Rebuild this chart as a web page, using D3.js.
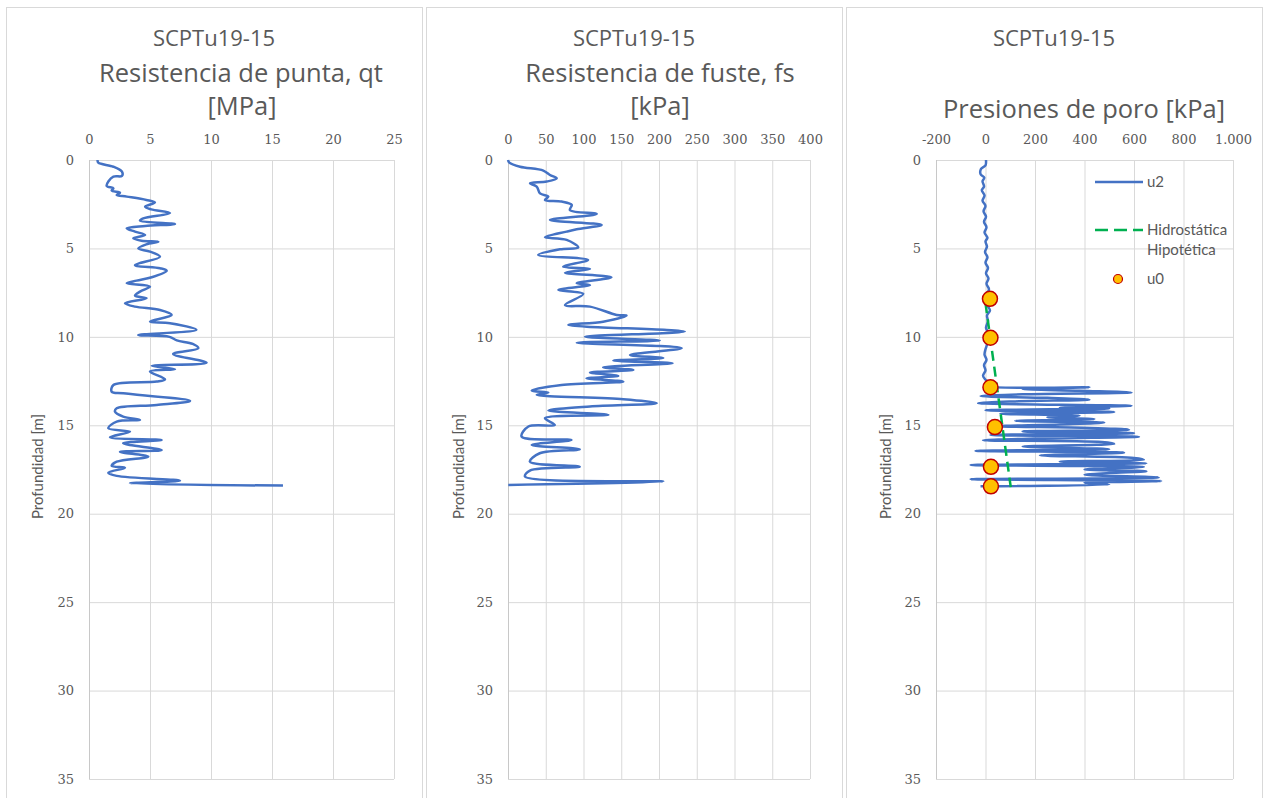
<!DOCTYPE html>
<html>
<head>
<meta charset="utf-8">
<script src="https://cdn.jsdelivr.net/npm/d3@7"></script>
<style>
  html, body { margin: 0; padding: 0; background: #ffffff; }
  svg { display: block; }
  .title { font-family: "Open Sans", Lato, sans-serif; fill: #595959; }
  .label { font-family: Lato, "Open Sans", sans-serif; fill: #595959; }
  .tick text { font-family: "DejaVu Serif", serif; fill: #595959; }
</style>
</head>
<body>
<svg id="chart" width="1266" height="798"></svg>
<script>
// ---- Data: SCPTu19-15 sounding ----
const depthTicks = [0, 5, 10, 15, 20, 25, 30, 35];
const qtTicks = [0, 5, 10, 15, 20, 25];
const fsTicks = [0, 50, 100, 150, 200, 250, 300, 350, 400];
const uTicks = [-200, 0, 200, 400, 600, 800, 1000];

// Cone tip resistance qt [MPa] vs depth [m]
const qtDepth = [0, 0.15, 0.38, 0.66, 0.9, 0.94, 1.2, 1.47, 1.6, 1.73, 1.85, 1.98, 2.07, 2.26, 2.4, 2.64, 2.79, 3.0, 3.3, 3.43, 3.62, 3.73, 3.86, 4.05, 4.24, 4.43, 4.56, 4.62, 4.77, 5.0, 5.18, 5.47, 5.94, 6.12, 6.26, 6.63, 6.82, 6.97, 7.16, 7.44, 7.67, 7.82, 8.1, 8.29, 8.48, 8.76, 9.14, 9.23, 9.6, 9.9, 10.0, 10.2, 10.4, 10.64, 10.97, 11.46, 11.64, 11.83, 11.96, 12.4, 12.53, 12.72, 13.1, 13.19, 13.62, 13.85, 14.04, 14.23, 14.51, 14.7, 14.79, 15.17, 15.36, 15.68, 15.83, 16.02, 16.4, 16.5, 16.77, 17.06, 17.3, 17.4, 17.68, 17.86, 18.13, 18.28, 18.41];
const qtValue = [0.7, 0.76, 2.0, 2.7, 2.7, 2.0, 1.6, 1.45, 2.0, 1.86, 2.54, 2.27, 3.1, 4.7, 5.4, 4.6, 5.1, 6.64, 4.45, 4.18, 7.05, 4.6, 3.09, 3.77, 4.6, 3.63, 4.3, 5.68, 4.7, 4.04, 5.0, 5.82, 3.77, 5.82, 6.37, 5.14, 3.9, 3.09, 5.0, 4.18, 3.77, 4.72, 2.95, 3.77, 5.82, 6.78, 5.0, 6.64, 8.8, 4.04, 6.6, 7.2, 8.5, 8.96, 6.9, 9.64, 5.14, 7.05, 5.0, 6.23, 5.55, 2.0, 1.86, 2.8, 8.28, 5.55, 2.27, 2.13, 2.8, 4.18, 2.27, 1.58, 3.36, 1.72, 5.95, 2.8, 5.95, 2.54, 4.86, 2.27, 1.86, 2.95, 1.58, 2.27, 7.46, 3.36, 15.9];

// Sleeve friction fs [kPa] vs depth [m]
const fsDepth = [0, 0.15, 0.38, 0.6, 0.85, 1.04, 1.22, 1.32, 1.5, 1.89, 2.07, 2.26, 2.35, 2.54, 2.83, 3.05, 3.39, 3.67, 3.92, 4.05, 4.37, 4.52, 4.94, 5.05, 5.37, 5.65, 6.03, 6.16, 6.37, 6.63, 6.97, 7.07, 7.35, 7.57, 8.2, 8.29, 8.76, 8.8, 9.14, 9.33, 9.7, 9.99, 10.21, 10.33, 10.64, 11.02, 11.2, 11.34, 11.49, 11.72, 11.87, 12.02, 12.21, 12.34, 12.53, 12.72, 13.04, 13.15, 13.28, 13.53, 13.75, 13.94, 14.17, 14.41, 14.6, 14.98, 15.07, 15.64, 15.83, 16.11, 16.36, 16.58, 17.06, 17.34, 17.56, 17.9, 18.18, 18.37];
const fsValue = [0, 1.8, 15.9, 46.8, 55.6, 64.5, 51.2, 29.1, 38, 42.4, 53.4, 49, 71, 84.4, 82, 117.5, 55.6, 124, 91, 77.7, 49, 77.7, 93, 68.9, 40, 106, 73, 108.6, 75.5, 137, 91, 108.6, 66.7, 99.7, 75.5, 108.6, 144, 157, 126, 80, 234, 102, 201, 91, 230, 161.6, 205.7, 139.5, 218, 126, 166, 108.6, 146, 104, 152.7, 71, 31.4, 53.4, 38, 152.7, 197, 108.6, 53.4, 133, 49, 62, 27, 18, 84, 31.4, 95, 42, 29, 95, 29, 22.5, 205.7, 0.4];

// Pore pressure u2 [kPa] vs depth [m]
const u2Depth = [0, 0.3, 0.5, 0.8, 1.0, 1.2, 1.5, 1.7, 2.0, 2.3, 2.6, 2.9, 3.2, 3.5, 3.8, 4.1, 4.4, 4.6, 4.9, 5.2, 5.5, 5.8, 6.1, 6.4, 6.7, 7.0, 7.3, 7.6, 7.9, 8.2, 8.5, 8.8, 9.1, 9.5, 9.8, 10.1, 10.4, 10.7, 11.0, 11.3, 11.6, 11.9, 12.2, 12.5, 12.75, 12.8, 12.85, 12.95, 13.05, 13.15, 13.25, 13.35, 13.45, 13.55, 13.65, 13.75, 13.9, 14.0, 14.05, 14.15, 14.25, 14.35, 14.45, 14.55, 14.65, 14.75, 14.85, 14.95, 15.05, 15.15, 15.25, 15.35, 15.45, 15.55, 15.65, 15.75, 15.85, 15.95, 16.05, 16.2, 16.35, 16.45, 16.55, 16.7, 16.85, 16.95, 17.05, 17.15, 17.25, 17.35, 17.5, 17.6, 17.7, 17.8, 17.95, 18.05, 18.15, 18.25, 18.35, 18.45];
const u2Value = [2, 0, -18, -20, -5, -12, -6, -15, -4, -12, 0, -8, 2, -6, 4, -4, 8, 0, 6, -2, 8, 0, 10, 2, 12, 4, 14, 6, 16, 8, 18, 6, 10, 2, 12, -4, 6, 0, -4, 4, -6, 0, -10, 4, 10, 10, 420, 150, 380, 590, 150, -20, 250, 420, 120, -30, 590, 300, 500, 0, 520, 60, 380, 250, 440, 120, 480, 300, 40, 420, 580, 150, 600, 20, 620, 200, -10, 470, 520, 150, 500, -40, 560, 220, 600, 640, 300, 650, -60, 640, 400, 650, 500, 400, 700, -60, 710, 400, 500, -20];

// Hypothetical hydrostatic line [kPa]
const hydroDepth = [8.1, 18.5];
const hydroValue = [0, 102];

// Measured equilibrium pore pressure u0 [kPa]
const u0Depth = [7.85, 10.05, 12.85, 15.1, 17.35, 18.45];
const u0Value = [18, 20, 20, 38, 22, 22];

// ---- Layout ----
const svg = d3.select("#chart");
const plotTop = 160, plotBottom = 779;
const y = d3.scaleLinear().domain([0, 35]).range([plotTop, plotBottom]);

const esFormat = d3.formatLocale({ decimal: ",", thousands: ".", grouping: [3], currency: ["", ""], minus: "-" }).format(",");

const panels = [
  { frame: [6, 422], range: [89, 394], domain: [0, 25], ticks: qtTicks, yLabelX: 38,
    titles: [["SCPTu19-15", 214, 46], ["Resistencia de punta, qt", 241, 82], ["[MPa]", 242, 115]] },
  { frame: [426, 842], range: [508, 810], domain: [0, 400], ticks: fsTicks, yLabelX: 459,
    titles: [["SCPTu19-15", 634, 46], ["Resistencia de fuste, fs", 660, 82], ["[kPa]", 660, 115]] },
  { frame: [846, 1262], range: [936, 1233], domain: [-200, 1000], ticks: uTicks, yLabelX: 886,
    titles: [["SCPTu19-15", 1054, 46], ["Presiones de poro [kPa]", 1084, 118]] }
];

panels.forEach(p => {
  p.x = d3.scaleLinear().domain(p.domain).range(p.range);
  const g = svg.append("g");

  // Chart frame
  g.append("rect")
    .attr("x", p.frame[0] + 0.5).attr("y", 7.5)
    .attr("width", p.frame[1] - p.frame[0]).attr("height", 800)
    .attr("fill", "#ffffff").attr("stroke", "#d9d9d9").attr("stroke-width", 1);

  // Titles
  p.titles.forEach((t, i) => {
    g.append("text").attr("class", "title")
      .attr("x", t[1]).attr("y", t[2])
      .attr("text-anchor", "middle")
      .attr("font-size", i === 0 ? 22 : 25.5)
      .text(t[0]);
  });

  // Vertical gridlines
  g.append("g")
    .attr("transform", `translate(0,${plotTop})`)
    .call(d3.axisBottom(p.x).tickValues(p.ticks).tickSize(plotBottom - plotTop).tickFormat(""))
    .call(a => a.select(".domain").remove())
    .call(a => a.selectAll("line").attr("stroke", "#d9d9d9"));

  // Horizontal gridlines
  g.append("g")
    .attr("transform", `translate(${p.range[0]},0)`)
    .call(d3.axisRight(y).tickValues(depthTicks).tickSize(p.range[1] - p.range[0]).tickFormat(""))
    .call(a => a.select(".domain").remove())
    .call(a => a.selectAll("line").attr("stroke", "#d9d9d9"));

  // Depth axis line
  g.append("line")
    .attr("x1", p.range[0] + 0.5).attr("x2", p.range[0] + 0.5)
    .attr("y1", plotTop).attr("y2", plotBottom)
    .attr("stroke", "#c8c8c8");

  // Top value axis labels
  g.append("g")
    .attr("transform", `translate(0,${plotTop - 16})`)
    .call(d3.axisTop(p.x).tickValues(p.ticks).tickSize(0).tickPadding(0).tickFormat(esFormat))
    .call(a => a.select(".domain").remove())
    .call(a => a.selectAll("text").attr("font-size", 13).attr("dy", 0));

  // Depth labels
  g.append("g")
    .attr("transform", `translate(${p.range[0] - 15},0)`)
    .call(d3.axisLeft(y).tickValues(depthTicks).tickSize(0).tickPadding(0))
    .call(a => a.select(".domain").remove())
    .call(a => a.selectAll("text").attr("font-size", 13));

  // Depth axis title
  g.append("text").attr("class", "label")
    .attr("transform", `translate(${p.yLabelX},${(plotTop + plotBottom) / 2 - 3}) rotate(-90)`)
    .attr("text-anchor", "middle").attr("dy", "0.35em")
    .attr("font-size", 15)
    .attr("fill", "#7f7f7f")
    .text("Profundidad [m]");
});

const blue = "#4472c4";
function profile(panel, depths, values, smooth) {
  const line = d3.line()
    .x((d, i) => panel.x(values[i]))
    .y(d => y(d));
  if (smooth) line.curve(d3.curveCatmullRom.alpha(0.5));
  return line(depths);
}

svg.append("path").attr("d", profile(panels[0], qtDepth, qtValue, true))
  .attr("fill", "none").attr("stroke", blue).attr("stroke-width", 2.5).attr("stroke-linejoin", "round");
svg.append("path").attr("d", profile(panels[1], fsDepth, fsValue, true))
  .attr("fill", "none").attr("stroke", blue).attr("stroke-width", 2.5).attr("stroke-linejoin", "round");
svg.append("path").attr("d", profile(panels[2], u2Depth, u2Value, true))
  .attr("fill", "none").attr("stroke", blue).attr("stroke-width", 2.5).attr("stroke-linejoin", "round");

// Hydrostatic line
svg.append("path").attr("d", profile(panels[2], hydroDepth, hydroValue, false))
  .attr("fill", "none").attr("stroke", "#00b050").attr("stroke-width", 2.5).attr("stroke-dasharray", "10,6");

// u0 markers
svg.append("g").selectAll("circle").data(u0Depth).join("circle")
  .attr("cx", (d, i) => panels[2].x(u0Value[i]))
  .attr("cy", d => y(d))
  .attr("r", 7.5)
  .attr("fill", "#ffc000").attr("stroke", "#c00000").attr("stroke-width", 1.5);

// Legend
const leg = svg.append("g").attr("class", "label").attr("font-size", 15);
leg.append("line").attr("x1", 1095).attr("x2", 1143).attr("y1", 182).attr("y2", 182)
  .attr("stroke", blue).attr("stroke-width", 2.5);
leg.append("text").attr("x", 1147).attr("y", 187).text("u2");
leg.append("line").attr("x1", 1095).attr("x2", 1143).attr("y1", 230).attr("y2", 230)
  .attr("stroke", "#00b050").attr("stroke-width", 2.5).attr("stroke-dasharray", "13,6");
leg.append("text").attr("x", 1147).attr("y", 235).text("Hidrostática");
leg.append("text").attr("x", 1147).attr("y", 255).text("Hipotética");
leg.append("circle").attr("cx", 1118).attr("cy", 279).attr("r", 4.5)
  .attr("fill", "#ffc000").attr("stroke", "#c00000").attr("stroke-width", 1.2);
leg.append("text").attr("x", 1147).attr("y", 284).text("u0");
</script>
</body>
</html>
